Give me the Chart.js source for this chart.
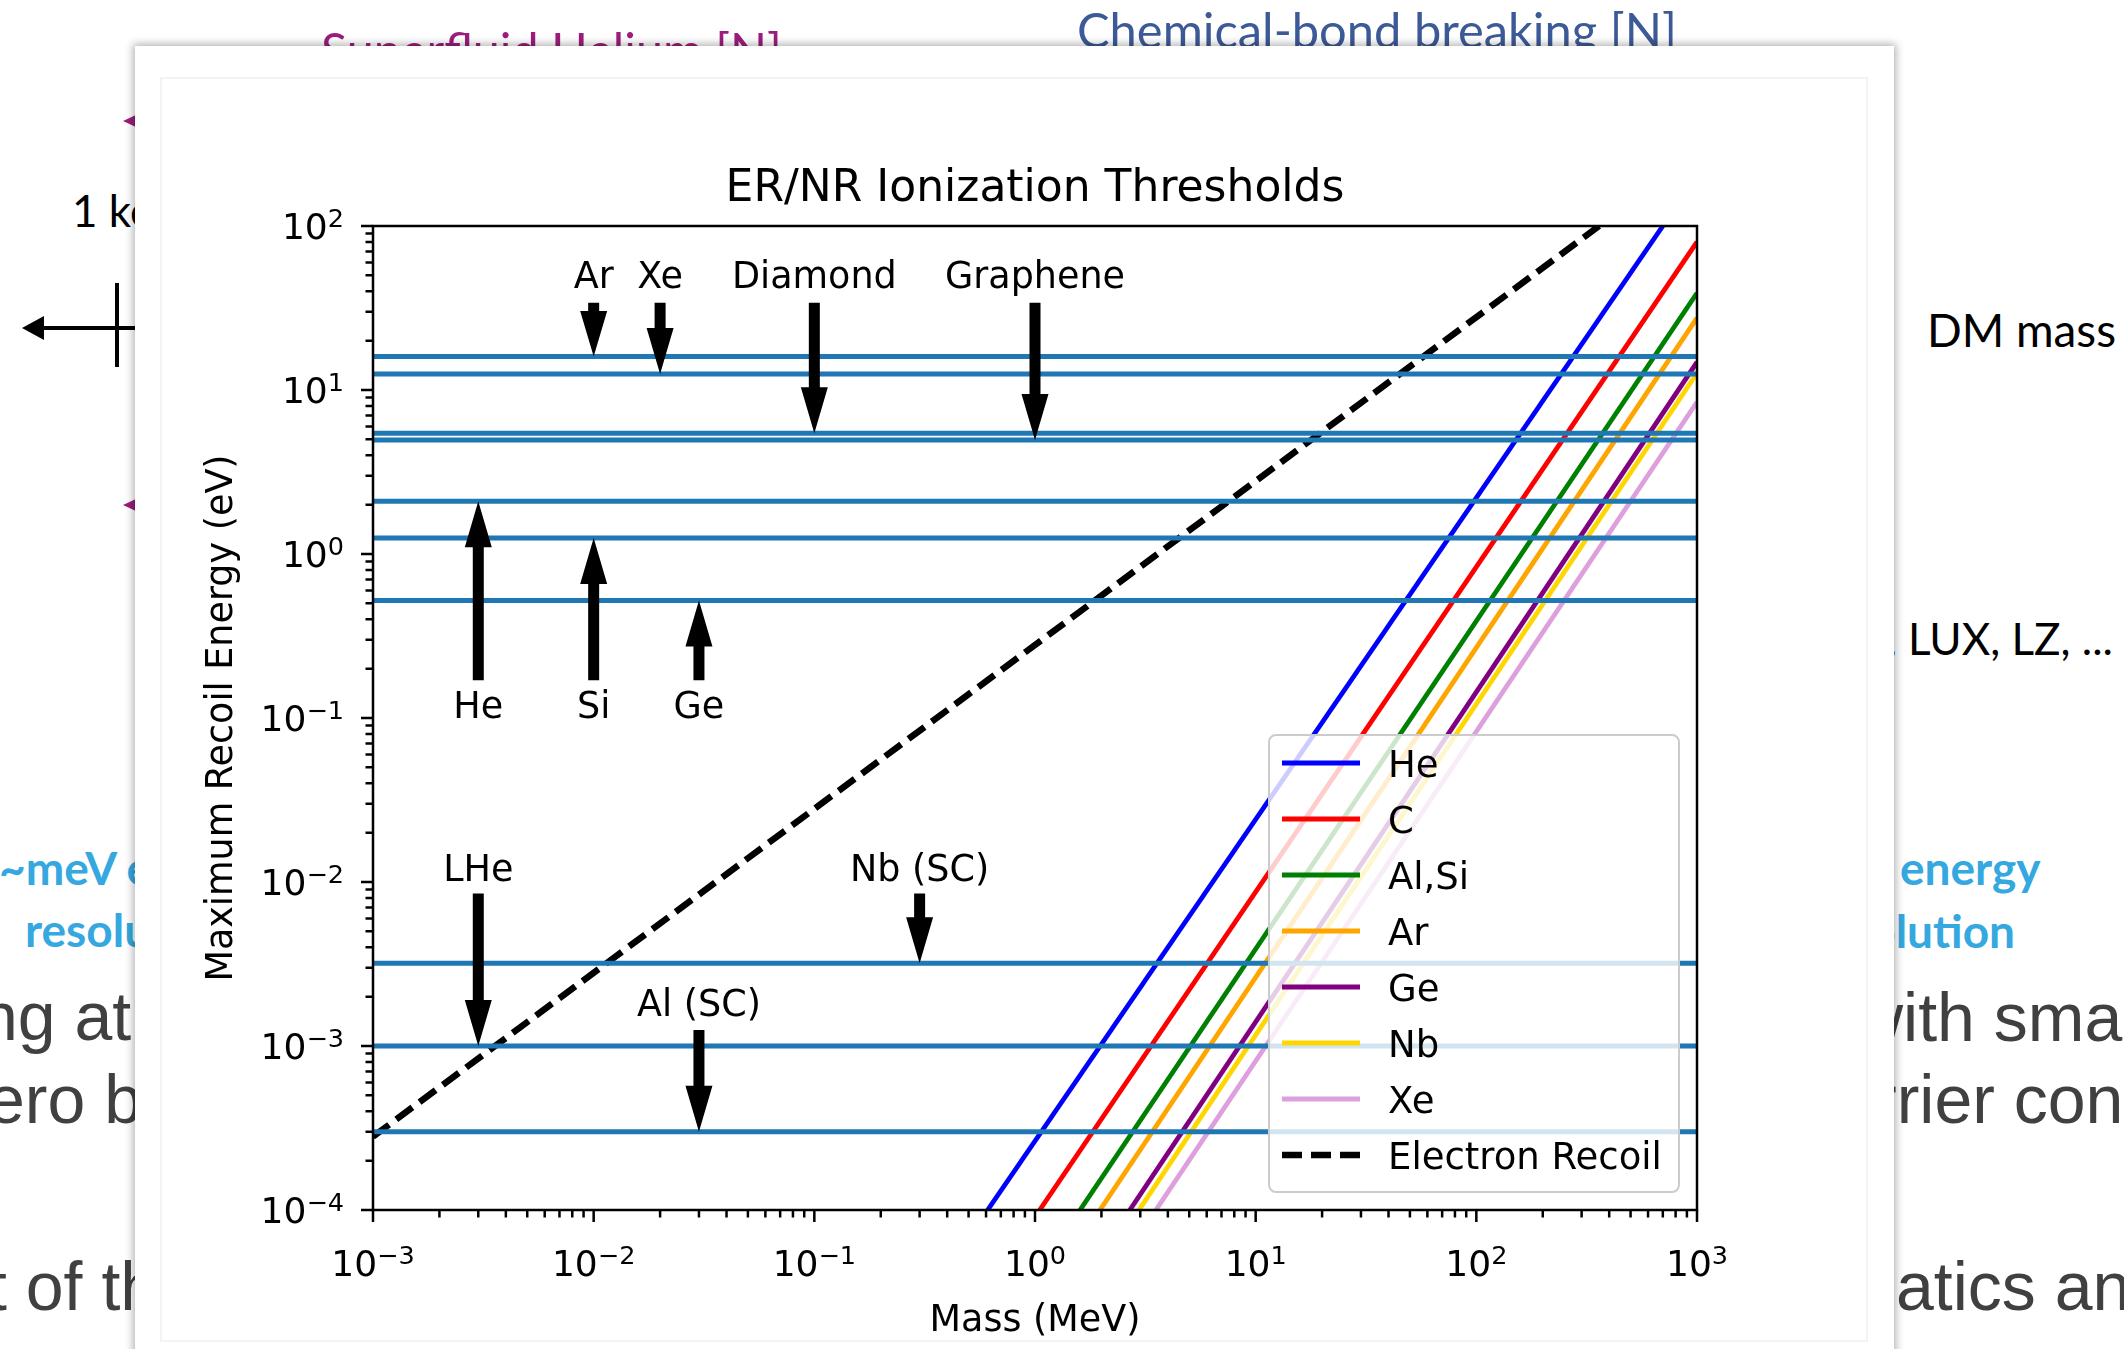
<!DOCTYPE html>
<html>
<head>
<meta charset="utf-8">
<script src="https://cdn.jsdelivr.net/npm/chart.js@4.4.1/dist/chart.umd.min.js"></script>
<style>
  html, body { margin: 0; padding: 0; background: #fff; }
  #page { position: relative; width: 2124px; height: 1349px; overflow: hidden; background: #fff; }
  #slide { position: absolute; left: 0; top: 0; }
  #panel { position: absolute; left: 135px; top: 46px; width: 1759px; height: 1400px; background: #fff;
           box-shadow: 0 0 8px 2px rgba(0,0,0,0.30); }
  #figframe { position: absolute; left: 160px; top: 77px; width: 1704px; height: 1261px; border: 2px solid #f3f3f3; }
  #chart { position: absolute; left: 0; top: 0; }
</style>
</head>
<body>
<div id="page">
  <svg id="slide" width="2124" height="1349" xmlns="http://www.w3.org/2000/svg">
    <g font-family="Lato, 'Open Sans', sans-serif">
      <text x="321" y="66" font-size="46" fill="#9b1d7d" data-w="461" data-top="33">Superfluid Helium [N]</text>
      <text x="1077" y="46" font-size="46" fill="#3d5a98" data-w="600" data-top="13">Chemical-bond breaking [N]</text>
      <text x="72" y="227" font-size="44" fill="#000">1 keV</text>
      <text x="1927" y="347" font-size="46" fill="#000" data-w="189">DM mass</text>
      <text x="2113" y="655" font-size="44" fill="#000" text-anchor="end">, LUX, LZ, ...</text>
      <text x="-1" y="885" font-size="46" font-weight="700" fill="#34a8df">~meV energy</text>
      <text x="25" y="947" font-size="46" font-weight="700" fill="#34a8df">resolution</text>
      <text x="1900" y="885" font-size="46" font-weight="700" fill="#34a8df">energy</text>
      <text x="2015" y="948" font-size="46" font-weight="700" fill="#34a8df" text-anchor="end">resolution</text>
    </g>
    <g font-family="'Liberation Sans', Arial, sans-serif" font-size="68" fill="#404040">
      <text x="-20" y="1040">ng at</text>
      <text x="-13" y="1123">ero b</text>
      <text x="-12" y="1310">t of th</text>
      <text x="1854" y="1041">with sma</text>
      <text x="1874" y="1123">rrier con</text>
      <text x="1896" y="1310">atics an</text>
    </g>
    <!-- mass-scale marker on the left -->
    <line x1="38" y1="328" x2="140" y2="328" stroke="#000" stroke-width="4"/>
    <polygon points="22,328 44,316 44,340" fill="#000"/>
    <line x1="117" y1="283" x2="117" y2="367" stroke="#000" stroke-width="4"/>
    <polygon points="123,121 138,114 138,128" fill="#9b1d7d"/>
    <polygon points="123,505 138,498 138,512" fill="#9b1d7d"/>
  </svg>
  <div id="panel"></div>
  <div id="figframe"></div>
  <canvas id="chart" width="2124" height="1349"></canvas>
</div>
<script>
// Size the slide headings to their measured widths
document.querySelectorAll('#slide text[data-w]').forEach(function (t) {
  const target = +t.dataset.w;
  const fs = parseFloat(t.getAttribute('font-size'));
  const len = t.getComputedTextLength();
  if (len > 0) {
    const nfs = fs * target / len;
    t.setAttribute('font-size', nfs.toFixed(2));
    if (t.dataset.top) t.setAttribute('y', (+t.dataset.top + 0.7165 * nfs).toFixed(1));
  }
});

// ---- nuclear-recoil curves: maximum recoil energy vs DM mass ----
const materials     = ['He', 'C', 'Al,Si', 'Ar', 'Ge', 'Nb', 'Xe'];
const nrColors      = ['#0000ff', '#ff0000', '#008000', '#ffa500', '#800080', '#ffd700', '#dda0dd'];
const nrMassStart   = [0.61, 1.05, 1.6, 1.97, 2.69, 2.96, 3.53];      // MeV
const nrEnergyStart = [1e-4, 1e-4, 1e-4, 1e-4, 1e-4, 1e-4, 1e-4];     // eV
const nrMassEnd     = [700, 1000, 1000, 1000, 1000, 1000, 1000];      // MeV
const nrEnergyEnd   = [100, 80, 39, 27.5, 14.8, 12.7, 8.45];          // eV

// ---- electron recoil ----
const erLabel  = 'Electron Recoil';
const erMass   = [0.001, 360];
const erEnergy = [2.8e-4, 100];

// ---- detector thresholds (horizontal lines) and their annotations ----
const thresholdLabels = ['Ar', 'Xe', 'Diamond', 'Graphene', 'He', 'Si', 'Ge', 'LHe', 'Nb (SC)', 'Al (SC)'];
const thresholdEnergy = [16, 12.5, 5.45, 4.95, 2.1, 1.25, 0.52, 1e-3, 3.2e-3, 3e-4];
const arrowMass       = [0.01, 0.02, 0.1, 1, 0.003, 0.01, 0.03, 0.003, 0.3, 0.03];
const arrowTail       = [34, 34, 34, 34, 0.17, 0.17, 0.17, 0.0085, 0.0085, 1.25e-3];
const arrowTextY      = [42, 42, 42, 42, 0.1, 0.1, 0.1, 0.0102, 0.0102, 1.52e-3];

// ---- axes ----
const xMin = 1e-3, xMax = 1e3, yMin = 1e-4, yMax = 1e2;
const xTickValues = [1e-3, 1e-2, 1e-1, 1e0, 1e1, 1e2, 1e3];
const xTickLabels = ['10^\u22123', '10^\u22122', '10^\u22121', '10^0', '10^1', '10^2', '10^3'];
const yTickValues = [1e-4, 1e-3, 1e-2, 1e-1, 1e0, 1e1, 1e2];
const yTickLabels = ['10^\u22124', '10^\u22123', '10^\u22122', '10^\u22121', '10^0', '10^1', '10^2'];
const titleText  = 'ER/NR Ionization Thresholds';
const xAxisTitle = 'Mass (MeV)';
const yAxisTitle = 'Maximum Recoil Energy (eV)';

const FONT = '"DejaVu Sans", Verdana, sans-serif';
const TICK_BLUE = '#1f77b4';

const datasets = [];
thresholdEnergy.forEach(function (e, i) {
  datasets.push({
    label: 'threshold ' + thresholdLabels[i],
    data: [{ x: xMin, y: e }, { x: xMax, y: e }],
    borderColor: TICK_BLUE, borderWidth: 5, showLine: true, pointRadius: 0, order: 1
  });
});
datasets.push({
  label: erLabel,
  data: erMass.map(function (m, i) { return { x: m, y: erEnergy[i] }; }),
  borderColor: '#000', borderWidth: 6.5, borderDash: [20, 9], borderCapStyle: 'butt',
  showLine: true, pointRadius: 0, order: 2
});
materials.forEach(function (name, i) {
  datasets.push({
    label: name,
    data: [{ x: nrMassStart[i], y: nrEnergyStart[i] }, { x: nrMassEnd[i], y: nrEnergyEnd[i] }],
    borderColor: nrColors[i], borderWidth: 4.8, showLine: true, pointRadius: 0,
    order: 3 + (materials.length - 1 - i)
  });
});

function drawPow(ctx, label, x, y, align) {
  const parts = label.split('^');
  const fb = 36, fe = 25.5, raise = 12;
  ctx.font = fb + 'px ' + FONT;
  const wb = ctx.measureText(parts[0]).width;
  ctx.font = fe + 'px ' + FONT;
  const we = ctx.measureText(parts[1]).width;
  const total = wb + we;
  const x0 = align === 'center' ? x - total / 2 : x - total;
  ctx.textAlign = 'left';
  ctx.textBaseline = 'alphabetic';
  ctx.font = fb + 'px ' + FONT;
  ctx.fillText(parts[0], x0, y);
  ctx.font = fe + 'px ' + FONT;
  ctx.fillText(parts[1], x0 + wb, y - raise);
}

function drawArrow(ctx, x, yTail, yTip) {
  const dir = yTip > yTail ? 1 : -1;
  const len = Math.abs(yTip - yTail);
  const headLen = Math.min(46, len * 0.85);
  const sh = 5.5, hh = 13.5;
  const yBase = yTip - dir * headLen;
  ctx.beginPath();
  ctx.moveTo(x - sh, yTail);
  ctx.lineTo(x + sh, yTail);
  ctx.lineTo(x + sh, yBase);
  ctx.lineTo(x + hh, yBase);
  ctx.lineTo(x, yTip);
  ctx.lineTo(x - hh, yBase);
  ctx.lineTo(x - sh, yBase);
  ctx.closePath();
  ctx.fill();
}

const decorations = {
  id: 'decorations',
  afterDatasetsDraw: function (chart) {
    const ctx = chart.ctx;
    const xs = chart.scales.x, ys = chart.scales.y;
    const a = chart.chartArea;
    ctx.save();

    // annotation arrows and their labels
    ctx.fillStyle = '#000';
    thresholdLabels.forEach(function (lab, i) {
      const px = xs.getPixelForValue(arrowMass[i]);
      drawArrow(ctx, px, ys.getPixelForValue(arrowTail[i]), ys.getPixelForValue(thresholdEnergy[i]));
      ctx.font = '36.5px ' + FONT;
      ctx.textAlign = 'center';
      ctx.textBaseline = 'alphabetic';
      ctx.fillText(lab, px, ys.getPixelForValue(arrowTextY[i]));
    });

    // frame
    ctx.strokeStyle = '#000';
    ctx.lineWidth = 2.5;
    ctx.strokeRect(a.left, a.top, a.right - a.left, a.bottom - a.top);

    // ticks
    ctx.lineWidth = 2.5;
    ctx.beginPath();
    for (let d = -3; d <= 3; d++) {
      for (let k = 1; k <= 9; k++) {
        const v = k * Math.pow(10, d);
        if (v < xMin * 0.999 || v > xMax * 1.001) continue;
        const px = xs.getPixelForValue(v);
        ctx.moveTo(px, a.bottom);
        ctx.lineTo(px, a.bottom + (k === 1 ? 12 : 7.5));
      }
    }
    for (let d = -4; d <= 2; d++) {
      for (let k = 1; k <= 9; k++) {
        const v = k * Math.pow(10, d);
        if (v < yMin * 0.999 || v > yMax * 1.001) continue;
        const py = ys.getPixelForValue(v);
        ctx.moveTo(a.left, py);
        ctx.lineTo(a.left - (k === 1 ? 12 : 7.5), py);
      }
    }
    ctx.stroke();

    // tick labels
    ctx.fillStyle = '#000';
    xTickValues.forEach(function (v, i) {
      drawPow(ctx, xTickLabels[i], xs.getPixelForValue(v), a.bottom + 66, 'center');
    });
    yTickValues.forEach(function (v, i) {
      drawPow(ctx, yTickLabels[i], a.left - 29, ys.getPixelForValue(v) + 13.3, 'right');
    });

    // title and axis titles
    const cx = (a.left + a.right) / 2;
    ctx.textAlign = 'center';
    ctx.textBaseline = 'alphabetic';
    ctx.font = '44px ' + FONT;
    ctx.fillText(titleText, cx, a.top - 25);
    ctx.font = '36.5px ' + FONT;
    ctx.fillText(xAxisTitle, cx, a.bottom + 121);
    ctx.save();
    ctx.translate(232, (a.top + a.bottom) / 2);
    ctx.rotate(-Math.PI / 2);
    ctx.fillText(yAxisTitle, 0, 0);
    ctx.restore();

    // legend
    const lx = 1269, ly = 735, lw = 410, lh = 457, r = 7;
    ctx.beginPath();
    ctx.moveTo(lx + r, ly);
    ctx.arcTo(lx + lw, ly, lx + lw, ly + lh, r);
    ctx.arcTo(lx + lw, ly + lh, lx, ly + lh, r);
    ctx.arcTo(lx, ly + lh, lx, ly, r);
    ctx.arcTo(lx, ly, lx + lw, ly, r);
    ctx.closePath();
    ctx.fillStyle = 'rgba(255,255,255,0.8)';
    ctx.fill();
    ctx.strokeStyle = '#cccccc';
    ctx.lineWidth = 2;
    ctx.stroke();

    const names = materials.concat([erLabel]);
    const cols = nrColors.concat(['#000']);
    ctx.font = '37px ' + FONT;
    ctx.textAlign = 'left';
    names.forEach(function (n, i) {
      const ry = 763 + 56 * i;
      ctx.beginPath();
      ctx.strokeStyle = cols[i];
      if (i === names.length - 1) {
        ctx.lineWidth = 6.5;
        ctx.setLineDash([20, 9]);
      } else {
        ctx.lineWidth = 4.8;
        ctx.setLineDash([]);
      }
      ctx.moveTo(1282, ry);
      ctx.lineTo(1360, ry);
      ctx.stroke();
      ctx.setLineDash([]);
      ctx.fillStyle = '#000';
      ctx.fillText(n, 1388, ry + 13.5);
    });

    ctx.restore();
  }
};

new Chart(document.getElementById('chart'), {
  type: 'scatter',
  data: { datasets: datasets },
  options: {
    responsive: false,
    animation: false,
    devicePixelRatio: 1,
    events: [],
    layout: { padding: { left: 373, top: 226, right: 427, bottom: 139 } },
    elements: { line: { tension: 0 } },
    scales: {
      x: { type: 'logarithmic', min: xMin, max: xMax, display: false },
      y: { type: 'logarithmic', min: yMin, max: yMax, display: false }
    },
    plugins: { legend: { display: false }, tooltip: { enabled: false }, title: { display: false } }
  },
  plugins: [decorations]
});
</script>
</body>
</html>
